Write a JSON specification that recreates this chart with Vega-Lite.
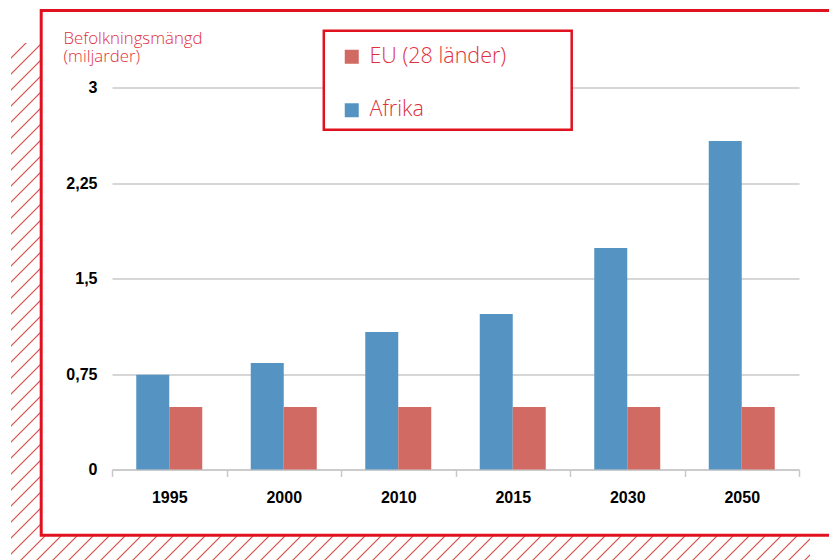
{
  "$schema": "https://vega.github.io/schema/vega-lite/v6.json",
  "width": 687,
  "height": 382,
  "autosize": {"type": "none"},
  "padding": {"left": 112, "top": 87.5, "right": 30, "bottom": 90.5},
  "background": "white",
  "config": {"view": {"stroke": null}, "font": "Liberation Sans"},
  "datasets": {
    "pop": [
      {"year": "1995", "region": "Afrika", "value": 0.745},
      {"year": "1995", "region": "EU (28 länder)", "value": 0.491},
      {"year": "2000", "region": "Afrika", "value": 0.836},
      {"year": "2000", "region": "EU (28 länder)", "value": 0.491},
      {"year": "2010", "region": "Afrika", "value": 1.08},
      {"year": "2010", "region": "EU (28 länder)", "value": 0.491},
      {"year": "2015", "region": "Afrika", "value": 1.221},
      {"year": "2015", "region": "EU (28 länder)", "value": 0.491},
      {"year": "2030", "region": "Afrika", "value": 1.74},
      {"year": "2030", "region": "EU (28 länder)", "value": 0.491},
      {"year": "2050", "region": "Afrika", "value": 2.58},
      {"year": "2050", "region": "EU (28 länder)", "value": 0.491}
    ]
  },
  "layer": [
    {
      "data": {"values": [{}]},
      "mark": {
        "type": "rect",
        "strokeWidth": 0,
        "fill": {
          "gradient": "linear", "x1": 0, "y1": 0, "x2": 0.064317, "y2": 1.056939,
          "stops": [
            {"offset": 0.02581, "color": "#ffffff"}, {"offset": 0.02868, "color": "#d9544d"}, {"offset": 0.03155, "color": "#ffffff"},
            {"offset": 0.05640, "color": "#ffffff"}, {"offset": 0.05927, "color": "#d9544d"}, {"offset": 0.06214, "color": "#ffffff"},
            {"offset": 0.08700, "color": "#ffffff"}, {"offset": 0.08987, "color": "#d9544d"}, {"offset": 0.09274, "color": "#ffffff"},
            {"offset": 0.11759, "color": "#ffffff"}, {"offset": 0.12046, "color": "#d9544d"}, {"offset": 0.12333, "color": "#ffffff"},
            {"offset": 0.14818, "color": "#ffffff"}, {"offset": 0.15105, "color": "#d9544d"}, {"offset": 0.15392, "color": "#ffffff"},
            {"offset": 0.17877, "color": "#ffffff"}, {"offset": 0.18164, "color": "#d9544d"}, {"offset": 0.18451, "color": "#ffffff"},
            {"offset": 0.20937, "color": "#ffffff"}, {"offset": 0.21224, "color": "#d9544d"}, {"offset": 0.21511, "color": "#ffffff"},
            {"offset": 0.23996, "color": "#ffffff"}, {"offset": 0.24283, "color": "#d9544d"}, {"offset": 0.24570, "color": "#ffffff"},
            {"offset": 0.27055, "color": "#ffffff"}, {"offset": 0.27342, "color": "#d9544d"}, {"offset": 0.27629, "color": "#ffffff"},
            {"offset": 0.30115, "color": "#ffffff"}, {"offset": 0.30402, "color": "#d9544d"}, {"offset": 0.30689, "color": "#ffffff"},
            {"offset": 0.33174, "color": "#ffffff"}, {"offset": 0.33461, "color": "#d9544d"}, {"offset": 0.33748, "color": "#ffffff"},
            {"offset": 0.36233, "color": "#ffffff"}, {"offset": 0.36520, "color": "#d9544d"}, {"offset": 0.36807, "color": "#ffffff"},
            {"offset": 0.39292, "color": "#ffffff"}, {"offset": 0.39579, "color": "#d9544d"}, {"offset": 0.39866, "color": "#ffffff"},
            {"offset": 0.42352, "color": "#ffffff"}, {"offset": 0.42639, "color": "#d9544d"}, {"offset": 0.42926, "color": "#ffffff"},
            {"offset": 0.45411, "color": "#ffffff"}, {"offset": 0.45698, "color": "#d9544d"}, {"offset": 0.45985, "color": "#ffffff"},
            {"offset": 0.48470, "color": "#ffffff"}, {"offset": 0.48757, "color": "#d9544d"}, {"offset": 0.49044, "color": "#ffffff"},
            {"offset": 0.51529, "color": "#ffffff"}, {"offset": 0.51816, "color": "#d9544d"}, {"offset": 0.52103, "color": "#ffffff"},
            {"offset": 0.54589, "color": "#ffffff"}, {"offset": 0.54876, "color": "#d9544d"}, {"offset": 0.55163, "color": "#ffffff"},
            {"offset": 0.57648, "color": "#ffffff"}, {"offset": 0.57935, "color": "#d9544d"}, {"offset": 0.58222, "color": "#ffffff"},
            {"offset": 0.60707, "color": "#ffffff"}, {"offset": 0.60994, "color": "#d9544d"}, {"offset": 0.61281, "color": "#ffffff"},
            {"offset": 0.63767, "color": "#ffffff"}, {"offset": 0.64054, "color": "#d9544d"}, {"offset": 0.64341, "color": "#ffffff"},
            {"offset": 0.66826, "color": "#ffffff"}, {"offset": 0.67113, "color": "#d9544d"}, {"offset": 0.67400, "color": "#ffffff"},
            {"offset": 0.69885, "color": "#ffffff"}, {"offset": 0.70172, "color": "#d9544d"}, {"offset": 0.70459, "color": "#ffffff"},
            {"offset": 0.72944, "color": "#ffffff"}, {"offset": 0.73231, "color": "#d9544d"}, {"offset": 0.73518, "color": "#ffffff"},
            {"offset": 0.76004, "color": "#ffffff"}, {"offset": 0.76291, "color": "#d9544d"}, {"offset": 0.76578, "color": "#ffffff"},
            {"offset": 0.79063, "color": "#ffffff"}, {"offset": 0.79350, "color": "#d9544d"}, {"offset": 0.79637, "color": "#ffffff"},
            {"offset": 0.82122, "color": "#ffffff"}, {"offset": 0.82409, "color": "#d9544d"}, {"offset": 0.82696, "color": "#ffffff"},
            {"offset": 0.85181, "color": "#ffffff"}, {"offset": 0.85468, "color": "#d9544d"}, {"offset": 0.85755, "color": "#ffffff"},
            {"offset": 0.88241, "color": "#ffffff"}, {"offset": 0.88528, "color": "#d9544d"}, {"offset": 0.88815, "color": "#ffffff"},
            {"offset": 0.91300, "color": "#ffffff"}, {"offset": 0.91587, "color": "#d9544d"}, {"offset": 0.91874, "color": "#ffffff"},
            {"offset": 0.94359, "color": "#ffffff"}, {"offset": 0.94646, "color": "#d9544d"}, {"offset": 0.94933, "color": "#ffffff"},
            {"offset": 0.97419, "color": "#ffffff"}, {"offset": 0.97706, "color": "#d9544d"}, {"offset": 0.97993, "color": "#ffffff"}
          ]
        }
      },
      "encoding": {"x": {"value": -101}, "x2": {"value": -71}, "y": {"value": -44.5}, "y2": {"value": 448.5}}
    },
    {
      "data": {"values": [{}]},
      "mark": {
        "type": "rect",
        "strokeWidth": 0,
        "fill": {
          "gradient": "linear", "x1": 0, "y1": 0, "x2": 1.029109, "y2": 0.030912,
          "stops": [
            {"offset": 0.00061, "color": "#ffffff"}, {"offset": 0.00243, "color": "#d9544d"}, {"offset": 0.00425, "color": "#ffffff"},
            {"offset": 0.02005, "color": "#ffffff"}, {"offset": 0.02187, "color": "#d9544d"}, {"offset": 0.02369, "color": "#ffffff"},
            {"offset": 0.03949, "color": "#ffffff"}, {"offset": 0.04131, "color": "#d9544d"}, {"offset": 0.04313, "color": "#ffffff"},
            {"offset": 0.05893, "color": "#ffffff"}, {"offset": 0.06075, "color": "#d9544d"}, {"offset": 0.06257, "color": "#ffffff"},
            {"offset": 0.07837, "color": "#ffffff"}, {"offset": 0.08019, "color": "#d9544d"}, {"offset": 0.08201, "color": "#ffffff"},
            {"offset": 0.09782, "color": "#ffffff"}, {"offset": 0.09964, "color": "#d9544d"}, {"offset": 0.10146, "color": "#ffffff"},
            {"offset": 0.11726, "color": "#ffffff"}, {"offset": 0.11908, "color": "#d9544d"}, {"offset": 0.12090, "color": "#ffffff"},
            {"offset": 0.13670, "color": "#ffffff"}, {"offset": 0.13852, "color": "#d9544d"}, {"offset": 0.14034, "color": "#ffffff"},
            {"offset": 0.15614, "color": "#ffffff"}, {"offset": 0.15796, "color": "#d9544d"}, {"offset": 0.15978, "color": "#ffffff"},
            {"offset": 0.17558, "color": "#ffffff"}, {"offset": 0.17740, "color": "#d9544d"}, {"offset": 0.17922, "color": "#ffffff"},
            {"offset": 0.19502, "color": "#ffffff"}, {"offset": 0.19684, "color": "#d9544d"}, {"offset": 0.19866, "color": "#ffffff"},
            {"offset": 0.21446, "color": "#ffffff"}, {"offset": 0.21628, "color": "#d9544d"}, {"offset": 0.21810, "color": "#ffffff"},
            {"offset": 0.23390, "color": "#ffffff"}, {"offset": 0.23572, "color": "#d9544d"}, {"offset": 0.23754, "color": "#ffffff"},
            {"offset": 0.25334, "color": "#ffffff"}, {"offset": 0.25516, "color": "#d9544d"}, {"offset": 0.25698, "color": "#ffffff"},
            {"offset": 0.27279, "color": "#ffffff"}, {"offset": 0.27461, "color": "#d9544d"}, {"offset": 0.27643, "color": "#ffffff"},
            {"offset": 0.29223, "color": "#ffffff"}, {"offset": 0.29405, "color": "#d9544d"}, {"offset": 0.29587, "color": "#ffffff"},
            {"offset": 0.31167, "color": "#ffffff"}, {"offset": 0.31349, "color": "#d9544d"}, {"offset": 0.31531, "color": "#ffffff"},
            {"offset": 0.33111, "color": "#ffffff"}, {"offset": 0.33293, "color": "#d9544d"}, {"offset": 0.33475, "color": "#ffffff"},
            {"offset": 0.35055, "color": "#ffffff"}, {"offset": 0.35237, "color": "#d9544d"}, {"offset": 0.35419, "color": "#ffffff"},
            {"offset": 0.36999, "color": "#ffffff"}, {"offset": 0.37181, "color": "#d9544d"}, {"offset": 0.37363, "color": "#ffffff"},
            {"offset": 0.38943, "color": "#ffffff"}, {"offset": 0.39125, "color": "#d9544d"}, {"offset": 0.39307, "color": "#ffffff"},
            {"offset": 0.40887, "color": "#ffffff"}, {"offset": 0.41069, "color": "#d9544d"}, {"offset": 0.41251, "color": "#ffffff"},
            {"offset": 0.42831, "color": "#ffffff"}, {"offset": 0.43013, "color": "#d9544d"}, {"offset": 0.43195, "color": "#ffffff"},
            {"offset": 0.44776, "color": "#ffffff"}, {"offset": 0.44958, "color": "#d9544d"}, {"offset": 0.45140, "color": "#ffffff"},
            {"offset": 0.46720, "color": "#ffffff"}, {"offset": 0.46902, "color": "#d9544d"}, {"offset": 0.47084, "color": "#ffffff"},
            {"offset": 0.48664, "color": "#ffffff"}, {"offset": 0.48846, "color": "#d9544d"}, {"offset": 0.49028, "color": "#ffffff"},
            {"offset": 0.50608, "color": "#ffffff"}, {"offset": 0.50790, "color": "#d9544d"}, {"offset": 0.50972, "color": "#ffffff"},
            {"offset": 0.52552, "color": "#ffffff"}, {"offset": 0.52734, "color": "#d9544d"}, {"offset": 0.52916, "color": "#ffffff"},
            {"offset": 0.54496, "color": "#ffffff"}, {"offset": 0.54678, "color": "#d9544d"}, {"offset": 0.54860, "color": "#ffffff"},
            {"offset": 0.56440, "color": "#ffffff"}, {"offset": 0.56622, "color": "#d9544d"}, {"offset": 0.56804, "color": "#ffffff"},
            {"offset": 0.58384, "color": "#ffffff"}, {"offset": 0.58566, "color": "#d9544d"}, {"offset": 0.58748, "color": "#ffffff"},
            {"offset": 0.60328, "color": "#ffffff"}, {"offset": 0.60510, "color": "#d9544d"}, {"offset": 0.60692, "color": "#ffffff"},
            {"offset": 0.62272, "color": "#ffffff"}, {"offset": 0.62454, "color": "#d9544d"}, {"offset": 0.62636, "color": "#ffffff"},
            {"offset": 0.64217, "color": "#ffffff"}, {"offset": 0.64399, "color": "#d9544d"}, {"offset": 0.64581, "color": "#ffffff"},
            {"offset": 0.66161, "color": "#ffffff"}, {"offset": 0.66343, "color": "#d9544d"}, {"offset": 0.66525, "color": "#ffffff"},
            {"offset": 0.68105, "color": "#ffffff"}, {"offset": 0.68287, "color": "#d9544d"}, {"offset": 0.68469, "color": "#ffffff"},
            {"offset": 0.70049, "color": "#ffffff"}, {"offset": 0.70231, "color": "#d9544d"}, {"offset": 0.70413, "color": "#ffffff"},
            {"offset": 0.71993, "color": "#ffffff"}, {"offset": 0.72175, "color": "#d9544d"}, {"offset": 0.72357, "color": "#ffffff"},
            {"offset": 0.73937, "color": "#ffffff"}, {"offset": 0.74119, "color": "#d9544d"}, {"offset": 0.74301, "color": "#ffffff"},
            {"offset": 0.75881, "color": "#ffffff"}, {"offset": 0.76063, "color": "#d9544d"}, {"offset": 0.76245, "color": "#ffffff"},
            {"offset": 0.77825, "color": "#ffffff"}, {"offset": 0.78007, "color": "#d9544d"}, {"offset": 0.78189, "color": "#ffffff"},
            {"offset": 0.79769, "color": "#ffffff"}, {"offset": 0.79951, "color": "#d9544d"}, {"offset": 0.80133, "color": "#ffffff"},
            {"offset": 0.81713, "color": "#ffffff"}, {"offset": 0.81895, "color": "#d9544d"}, {"offset": 0.82077, "color": "#ffffff"},
            {"offset": 0.83658, "color": "#ffffff"}, {"offset": 0.83840, "color": "#d9544d"}, {"offset": 0.84022, "color": "#ffffff"},
            {"offset": 0.85602, "color": "#ffffff"}, {"offset": 0.85784, "color": "#d9544d"}, {"offset": 0.85966, "color": "#ffffff"},
            {"offset": 0.87546, "color": "#ffffff"}, {"offset": 0.87728, "color": "#d9544d"}, {"offset": 0.87910, "color": "#ffffff"},
            {"offset": 0.89490, "color": "#ffffff"}, {"offset": 0.89672, "color": "#d9544d"}, {"offset": 0.89854, "color": "#ffffff"},
            {"offset": 0.91434, "color": "#ffffff"}, {"offset": 0.91616, "color": "#d9544d"}, {"offset": 0.91798, "color": "#ffffff"},
            {"offset": 0.93378, "color": "#ffffff"}, {"offset": 0.93560, "color": "#d9544d"}, {"offset": 0.93742, "color": "#ffffff"},
            {"offset": 0.95322, "color": "#ffffff"}, {"offset": 0.95504, "color": "#d9544d"}, {"offset": 0.95686, "color": "#ffffff"},
            {"offset": 0.97266, "color": "#ffffff"}, {"offset": 0.97448, "color": "#d9544d"}, {"offset": 0.97630, "color": "#ffffff"},
            {"offset": 0.99211, "color": "#ffffff"}, {"offset": 0.99393, "color": "#d9544d"}, {"offset": 0.99575, "color": "#ffffff"}
          ]
        }
      },
      "encoding": {"x": {"value": -101}, "x2": {"value": 698}, "y": {"value": 448.5}, "y2": {"value": 472.5}}
    },
    {
      "data": {"values": [{}]},
      "mark": {"type": "rect", "fill": null, "fillOpacity": 0, "stroke": "#e1121f", "strokeWidth": 3},
      "encoding": {"x": {"value": -70.8}, "x2": {"value": 730}, "y": {"value": -76.9}, "y2": {"value": 447.8}}
    },
    {
      "data": {"values": [{}]},
      "mark": {"type": "rect", "fill": "#ffffff", "stroke": "#e1121f", "strokeWidth": 2.5},
      "encoding": {"x": {"value": 211.8}, "x2": {"value": 459.7}, "y": {"value": -56.8}, "y2": {"value": 42.2}}
    },
    {
      "data": {"name": "pop"},
      "mark": {"type": "bar"},
      "encoding": {
        "x": {
          "field": "year", "type": "nominal",
          "scale": {"paddingInner": 0, "paddingOuter": 0},
          "axis": {
            "title": null, "tickBand": "extent", "tickSize": 7, "tickColor": "#c8c8c8", "tickWidth": 1.5,
            "domainColor": "#c8c8c8", "domainWidth": 1.5, "labelAngle": 0,
            "labelFont": "Liberation Sans", "labelFontWeight": "bold", "labelFontSize": 16, "labelColor": "#000000",
            "labelPadding": 13, "grid": false
          }
        },
        "xOffset": {
          "field": "region", "type": "nominal", "sort": ["Afrika", "EU (28 länder)"],
          "scale": {"paddingOuter": 0.735, "paddingInner": 0}
        },
        "y": {
          "field": "value", "type": "quantitative",
          "scale": {"domain": [0, 3], "nice": false},
          "axis": {
            "values": [0, 0.75, 1.5, 2.25, 3],
            "labelExpr": "replace(format(datum.value, '~g'), '.', ',')",
            "domain": false, "ticks": false, "grid": true, "gridColor": "#c8c8c8", "gridWidth": 1.5,
            "labelFont": "Liberation Sans", "labelFontWeight": "bold", "labelFontSize": 16, "labelColor": "#000000",
            "labelPadding": 15,
            "title": ["Befolkningsmängd", "(miljarder)"],
            "titleAngle": 0, "titleAlign": "left", "titleBaseline": "alphabetic",
            "titleX": -49, "titleY": -44.5,
            "titleFont": "Open Sans", "titleFontWeight": 300, "titleFontSize": 16.8, "titleColor": "#e0303c",
            "titleLineHeight": 18.5
          }
        },
        "color": {
          "field": "region", "type": "nominal",
          "scale": {"domain": ["EU (28 länder)", "Afrika"], "range": ["#d06a62", "#5594c2"]},
          "legend": {
            "orient": "none", "legendX": 229, "legendY": -41.5, "title": null,
            "symbolType": "square", "symbolSize": 196, "symbolStrokeWidth": 0,
            "labelFont": "Open Sans", "labelFontSize": 21.5, "labelFontWeight": 300, "labelColor": "#e0303c",
            "labelOffset": 7, "rowPadding": 30.5, "padding": 0, "labelLimit": 400
          }
        }
      }
    }
  ]
}
